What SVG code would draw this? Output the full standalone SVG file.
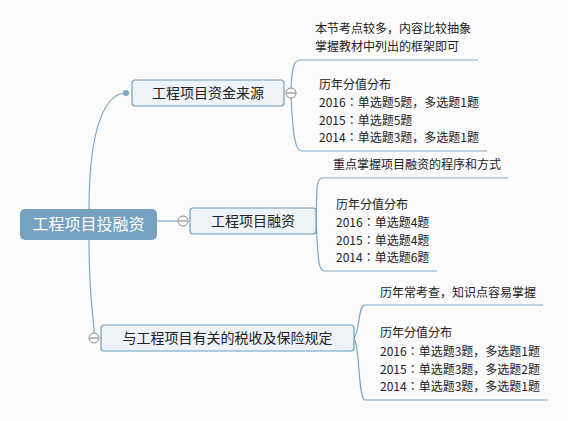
<svg xmlns="http://www.w3.org/2000/svg" width="568" height="421" viewBox="0 0 568 421">
<style>
.bg{fill:#fbfbfc}
.ln{fill:none;stroke:#7ea7c6;stroke-width:1.2}
.box{fill:#eef3f7;stroke:#6f9dbf;stroke-width:1.2}
.root{fill:#74a1bf}
.t{font-family:"Noto Sans CJK SC","Noto Sans",sans-serif;fill:#222}
.s{font-size:12px;font-family:"Noto Sans CJK JP","Noto Sans CJK SC",sans-serif}
.m{font-size:14px;text-anchor:middle}
.r{font-size:16px;text-anchor:middle;fill:#fff}
.cc{fill:#fff;stroke:#888;stroke-width:1}
.cl{stroke:#777;stroke-width:1}
</style>
<rect class="bg" width="568" height="421"/>
<g id="connectors">
<path class="ln" d="M89 209 C89 120 108 93 126 93"/>
<path class="ln" d="M157 221 L178 221"/>
<path class="ln" d="M89 240 C89 300 94 318 94 333"/>
<path class="ln" d="M291 88 C292 70 293 60 300 60 L478 60"/>
<path class="ln" d="M291 98 C293 130 294 151 302 151 L487 151"/>
<path class="ln" d="M316 221 C317 190 316 178 322 178 L508 178"/>
<path class="ln" d="M316 221 C318 255 318 271 324 271 L437 271"/>
<path class="ln" d="M354 338 C360 330 358 305 365 305 L543 305"/>
<path class="ln" d="M354 338 C360 346 358 400 365 400 L548 400"/>
<circle cx="126" cy="93" r="3" fill="#7ea7c6"/>
</g>
<g id="root">
<rect class="root" x="20" y="209" width="137" height="31" rx="5"/>
<text class="t r" x="88.5" y="230">工程项目投融资</text>
</g>
<g id="node1">
<rect class="box" x="132" y="80" width="152" height="26" rx="3"/>
<text class="t m" x="208" y="98">工程项目资金来源</text>
<circle class="cc" cx="291" cy="93" r="5"/>
<line class="cl" x1="287" y1="93" x2="295" y2="93"/>
</g>
<g id="node1-notes">
<text class="t s" x="315" y="33">本节考点较多，内容比较抽象</text>
<text class="t s" x="315" y="51">掌握教材中列出的框架即可</text>
<text class="t s" x="319" y="89">历年分值分布</text>
<text class="t s" x="319" y="107">2016：单选题5题，多选题1题</text>
<text class="t s" x="319" y="124.5">2015：单选题5题</text>
<text class="t s" x="319" y="142">2014：单选题3题，多选题1题</text>
</g>
<g id="node2">
<circle class="cc" cx="183" cy="221" r="5"/>
<line class="cl" x1="179" y1="221" x2="187" y2="221"/>
<rect class="box" x="190" y="208" width="126" height="26" rx="3"/>
<text class="t m" x="253" y="226">工程项目融资</text>
</g>
<g id="node2-notes">
<text class="t s" x="333" y="169">重点掌握项目融资的程序和方式</text>
<text class="t s" x="336" y="209">历年分值分布</text>
<text class="t s" x="336" y="227">2016：单选题4题</text>
<text class="t s" x="336" y="244.5">2015：单选题4题</text>
<text class="t s" x="336" y="262">2014：单选题6题</text>
</g>
<g id="node3">
<circle class="cc" cx="94" cy="338" r="5"/>
<line class="cl" x1="90" y1="338" x2="98" y2="338"/>
<rect class="box" x="101" y="325" width="253" height="26" rx="3"/>
<text class="t m" x="227.5" y="343">与工程项目有关的税收及保险规定</text>
</g>
<g id="node3-notes">
<text class="t s" x="380" y="297">历年常考查，知识点容易掌握</text>
<text class="t s" x="380" y="337">历年分值分布</text>
<text class="t s" x="380" y="356">2016：单选题3题，多选题1题</text>
<text class="t s" x="380" y="373.5">2015：单选题3题，多选题2题</text>
<text class="t s" x="380" y="391">2014：单选题3题，多选题1题</text>
</g>
</svg>
